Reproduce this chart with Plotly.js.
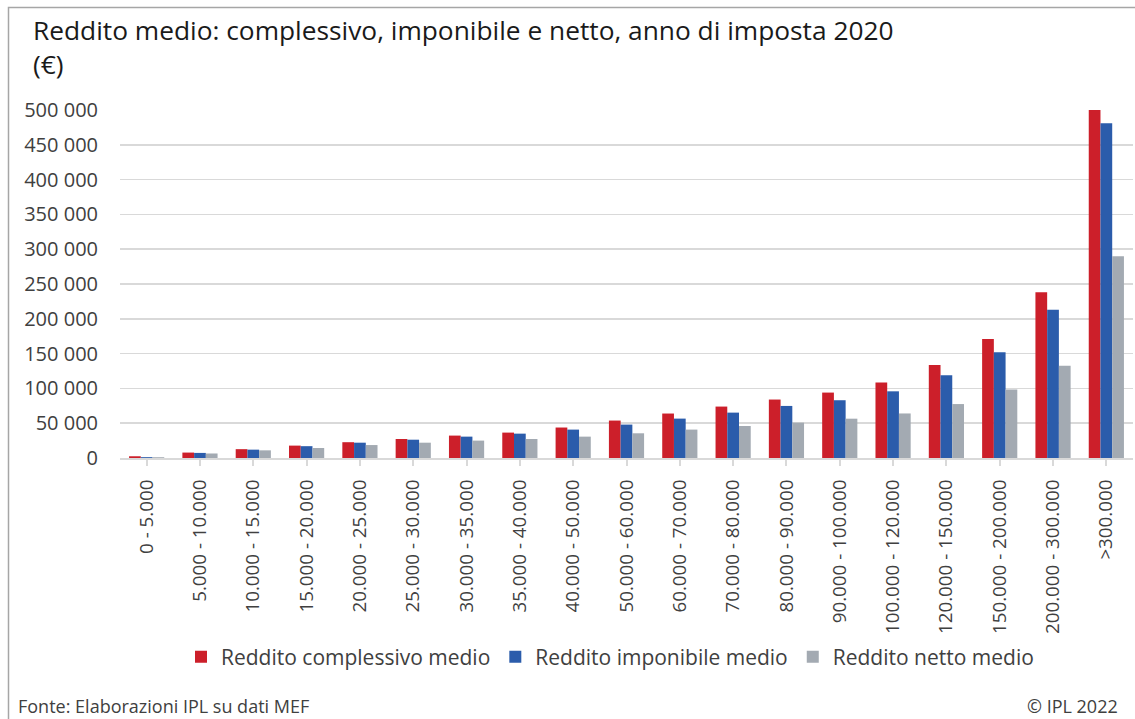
<!DOCTYPE html>
<html>
<head>
<meta charset="utf-8">
<script src="https://cdn.plot.ly/plotly-3.0.1.min.js"></script>
<style>
  html, body { margin: 0; padding: 0; background: #ffffff; }
  #chart { width: 1135px; height: 719px; }
</style>
</head>
<body>
<div id="chart"></div>
<script>
const categories = ['0 - 5.000','5.000 - 10.000','10.000 - 15.000','15.000 - 20.000','20.000 - 25.000','25.000 - 30.000','30.000 - 35.000','35.000 - 40.000','40.000 - 50.000','50.000 - 60.000','60.000 - 70.000','70.000 - 80.000','80.000 - 90.000','90.000 - 100.000','100.000 - 120.000','120.000 - 150.000','150.000 - 200.000','200.000 - 300.000','>300.000'];
const complessivo = [2500, 7800, 12700, 17800, 22700, 27300, 32200, 36500, 43800, 53800, 63900, 73900, 84000, 94000, 108500, 133500, 171000, 238000, 501000];
const imponibile  = [1200, 7300, 12000, 17000, 22000, 26300, 30700, 35000, 40800, 48000, 56600, 65200, 74800, 83000, 95800, 119000, 152000, 213000, 481000];
const netto       = [1100, 6500, 11000, 14400, 18600, 22000, 25000, 27300, 30700, 35500, 40800, 46000, 50800, 56500, 64000, 77500, 98500, 132500, 290000];
const seriesNames = ['Reddito complessivo medio', 'Reddito imponibile medio', 'Reddito netto medio'];
const colors = ['#cc1f2a', '#2b5cab', '#a3aab2'];
const yTicks = [0, 50000, 100000, 150000, 200000, 250000, 300000, 350000, 400000, 450000, 500000];

const FONT = '"Open Sans", "Noto Sans", sans-serif';
const W = 1135, H = 719;
const L = 120, R = 2, T = 110, B = 261;
const pw = W - L - R, ph = H - T - B;
const px = x => (x - L) / pw;
const py = y => (H - B - y) / ph;

const traces = [complessivo, imponibile, netto].map((vals, i) => ({
  type: 'bar',
  name: seriesNames[i],
  x: categories,
  y: vals,
  marker: { color: colors[i] },
  hoverinfo: 'x+y+name'
}));

const layout = {
  width: W, height: H,
  margin: { l: L, r: R, t: T, b: B },
  paper_bgcolor: '#ffffff',
  plot_bgcolor: '#ffffff',
  separators: ', ',
  barmode: 'group',
  bargap: 0.34,
  bargroupgap: 0,
  font: { family: FONT, color: '#404040' },
  title: {
    text: 'Reddito medio: complessivo, imponibile e netto, anno di imposta 2020<br>(€)',
    font: { family: FONT, size: 26.3, color: '#1a1a1a' },
    xref: 'container', yref: 'container',
    x: 33 / W, xanchor: 'left',
    y: 1 - 40 / H, yanchor: 'top'
  },
  xaxis: {
    type: 'category',
    tickangle: -90,
    tickfont: { family: FONT, size: 18.8, color: '#404040' },
    ticks: 'outside', ticklen: 6, tickwidth: 2, tickcolor: '#d9d9d9',
    ticklabelstandoff: 6,
    showline: true, linecolor: '#d9d9d9', linewidth: 2,
    showgrid: false, zeroline: false,
    fixedrange: true
  },
  yaxis: {
    range: [0, 500000],
    tickvals: yTicks,
    tickformat: ',d',
    tickfont: { family: FONT, size: 20, color: '#404040' },
    ticks: '',
    ticklabelstandoff: 21,
    showgrid: true, gridcolor: '#d9d9d9', gridwidth: 1.5,
    zeroline: false, showline: false,
    fixedrange: true
  },
  showlegend: true,
  legend: {
    orientation: 'h',
    x: px(610), xanchor: 'center',
    y: py(657), yanchor: 'middle',
    font: { family: FONT, size: 21, color: '#404040' },
    traceorder: 'normal',
    itemwidth: 30
  },
  annotations: [
    { text: 'Fonte: Elaborazioni IPL su dati MEF', xref: 'paper', yref: 'paper',
      x: px(16), y: py(706), xanchor: 'left', yanchor: 'middle', showarrow: false,
      font: { family: FONT, size: 18, color: '#404040' } },
    { text: '© IPL 2022', xref: 'paper', yref: 'paper',
      x: px(1120), y: py(706), xanchor: 'right', yanchor: 'middle', showarrow: false,
      font: { family: FONT, size: 18, color: '#404040' } }
  ],
  shapes: [
    { type: 'rect', xref: 'paper', yref: 'paper', layer: 'above',
      x0: px(8.5), x1: px(1200), y0: py(800), y1: py(7.5),
      line: { color: '#a6a6a6', width: 1.5 }, fillcolor: 'rgba(0,0,0,0)' }
  ]
};

Plotly.newPlot('chart', traces, layout, { displayModeBar: false, staticPlot: true });
</script>
</body>
</html>
